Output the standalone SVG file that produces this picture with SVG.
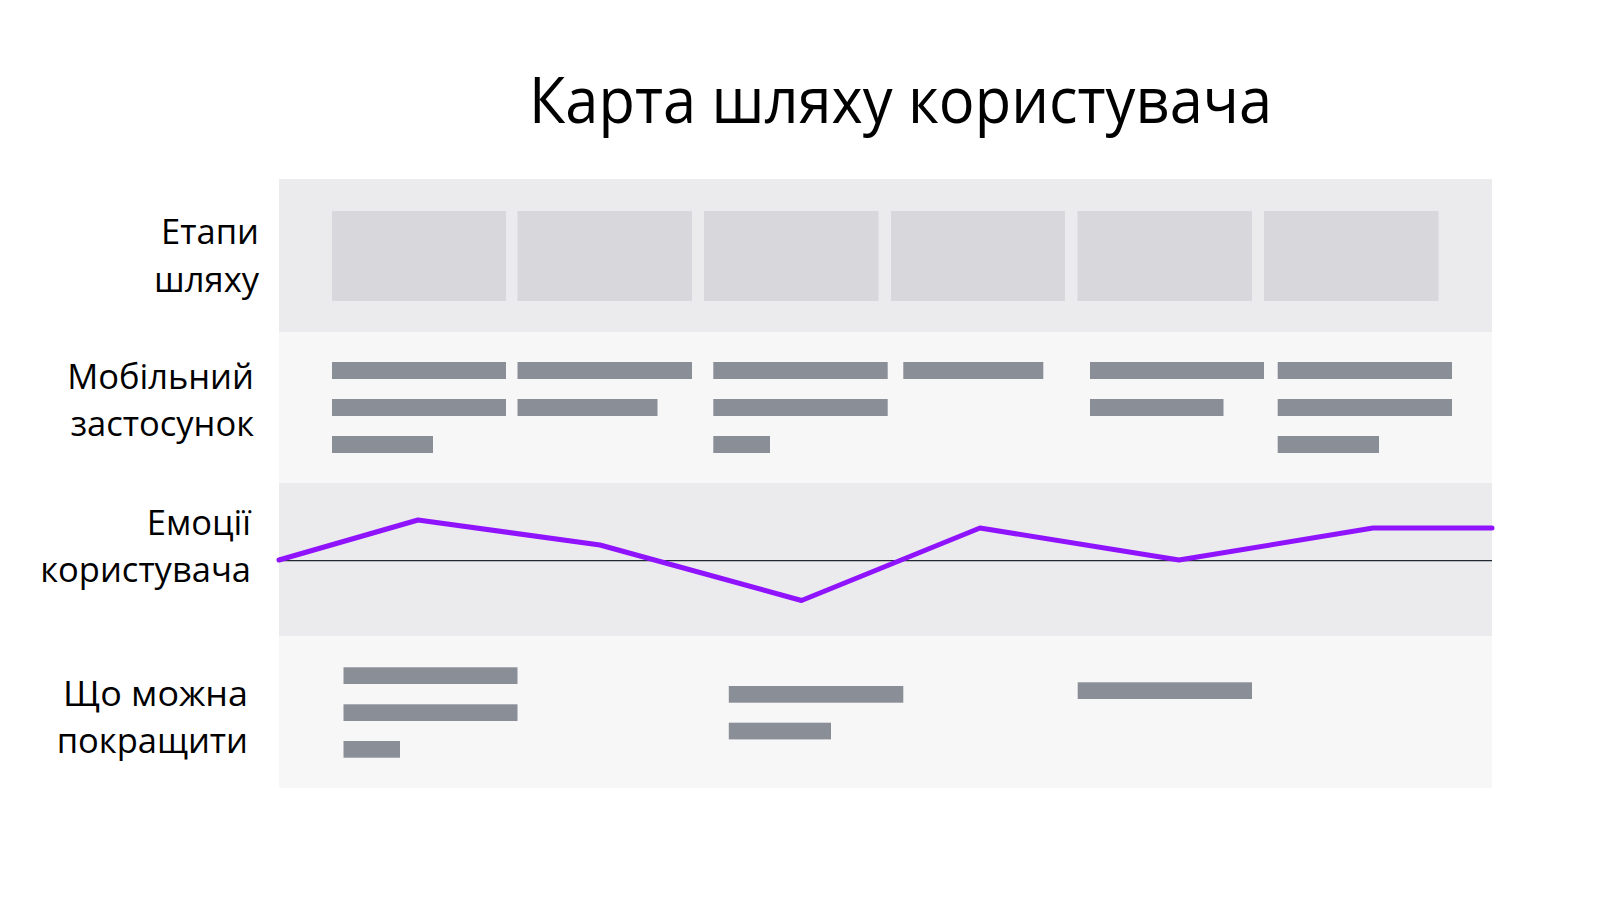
<svg xmlns="http://www.w3.org/2000/svg" width="1600" height="900" viewBox="0 0 1600 900">
<style>
.bg{fill:#ffffff}
.bandA{fill:#ebebed}
.bandB{fill:#f7f7f7}
.stage{fill:#d8d7dc}
.bar{fill:#8a8e97}
.title{font-family:"Segoe UI","Open Sans","Noto Sans",sans-serif;font-size:64px;fill:#000000}
.lbl{font-family:"Segoe UI","Open Sans","Noto Sans",sans-serif;font-size:34.5px;fill:#000000;text-anchor:end}
.axis{stroke:#1f2833;stroke-width:1.3;fill:none}
.emo{stroke:#9013fe;stroke-width:5;fill:none;stroke-linecap:round;stroke-linejoin:round}
</style>
<rect class="bg" x="0" y="0" width="1600" height="900"/>
<g id="title">
<text class="title" x="529" y="123" textLength="743" lengthAdjust="spacingAndGlyphs">Карта шляху користувача</text>
</g>
<g id="row-stages">
<rect class="bandA" x="279" y="179" width="1213" height="153"/>
<text class="lbl" x="259" y="244">Етапи</text>
<text class="lbl" x="259" y="292">шляху</text>
<rect class="stage" x="332" y="211" width="174" height="90"/>
<rect class="stage" x="517.5" y="211" width="174.5" height="90"/>
<rect class="stage" x="704" y="211" width="174.5" height="90"/>
<rect class="stage" x="891" y="211" width="174" height="90"/>
<rect class="stage" x="1077.5" y="211" width="174.5" height="90"/>
<rect class="stage" x="1264" y="211" width="174.5" height="90"/>
</g>
<g id="row-mobile">
<rect class="bandB" x="279" y="332" width="1213" height="151"/>
<text class="lbl" x="254" y="389">Мобільний</text>
<text class="lbl" x="254" y="436">застосунок</text>
<rect class="bar" x="332" y="362" width="174" height="17"/>
<rect class="bar" x="332" y="399" width="174" height="17"/>
<rect class="bar" x="332" y="436" width="101" height="17"/>
<rect class="bar" x="517.5" y="362" width="174.5" height="17"/>
<rect class="bar" x="517.5" y="399" width="140" height="17"/>
<rect class="bar" x="713.3" y="362" width="174.4" height="17"/>
<rect class="bar" x="713.3" y="399" width="174.4" height="17"/>
<rect class="bar" x="713.3" y="436" width="56.7" height="17"/>
<rect class="bar" x="903.3" y="362" width="140" height="17"/>
<rect class="bar" x="1090" y="362" width="174" height="17"/>
<rect class="bar" x="1090" y="399" width="133.5" height="17"/>
<rect class="bar" x="1277.7" y="362" width="174.3" height="17"/>
<rect class="bar" x="1277.7" y="399" width="174.3" height="17"/>
<rect class="bar" x="1277.7" y="436" width="101.3" height="17"/>
</g>
<g id="row-emotions">
<rect class="bandA" x="279" y="483" width="1213" height="153"/>
<text class="lbl" x="251" y="535">Емоції</text>
<text class="lbl" x="251" y="582">користувача</text>
<line class="axis" x1="279" y1="560.7" x2="1492" y2="560.7"/>
</g>
<g id="row-improve">
<rect class="bandB" x="279" y="636" width="1213" height="152"/>
<text class="lbl" x="248" y="706" textLength="185" lengthAdjust="spacingAndGlyphs">Що можна</text>
<text class="lbl" x="248" y="753">покращити</text>
<rect class="bar" x="343.5" y="667.3" width="174" height="16.7"/>
<rect class="bar" x="343.5" y="704.3" width="174" height="16.7"/>
<rect class="bar" x="343.5" y="741" width="56.5" height="16.7"/>
<rect class="bar" x="728.8" y="686" width="174.5" height="16.7"/>
<rect class="bar" x="728.8" y="722.7" width="102.2" height="16.7"/>
<rect class="bar" x="1077.7" y="682.3" width="174.3" height="16.7"/>
</g>
<g id="connectors">
<polyline class="emo" points="279,560 418,520 600,545 801.5,600.5 980,528 1179,560 1373,528 1492,528"/>
</g>
</svg>
